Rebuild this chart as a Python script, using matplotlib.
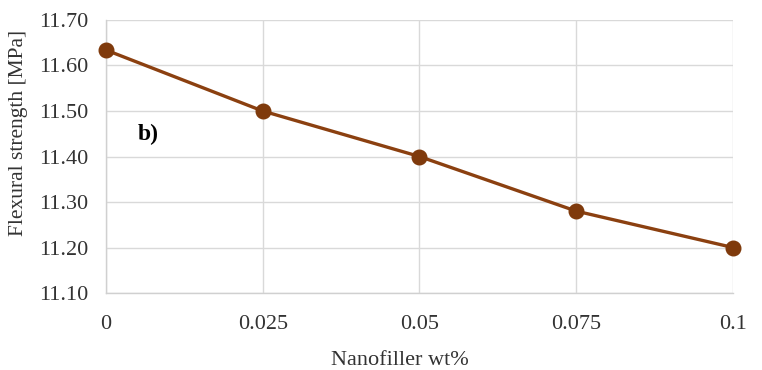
import matplotlib
matplotlib.use("Agg")
import matplotlib.pyplot as plt

# nanofiller content (wt%) and flexural strength (MPa)
x_labels = ["0", "0.025", "0.05", "0.075", "0.1"]
x_values = [0, 0.025, 0.05, 0.075, 0.1]
strength = [11.634, 11.50, 11.40, 11.28, 11.20]

y_ticks = [11.10, 11.20, 11.30, 11.40, 11.50, 11.60, 11.70]

plt.rcParams['font.family'] = ['Liberation Serif', 'DejaVu Serif']

fig = plt.figure(figsize=(7.62, 3.70), dpi=100)
ax = fig.add_axes([0.139, 0.208, 0.823, 0.738])

line_col = '#8B4010'
ax.plot(x_values, strength, color=line_col, linewidth=2.4, marker='o',
        markersize=10.5, markerfacecolor='#7F3A0C', markeredgecolor='#7F3A0C',
        solid_capstyle='round', zorder=3, clip_on=False)

ax.set_xlim(0, 0.1)
ax.set_ylim(11.10, 11.70)
ax.set_xticks(x_values)
ax.set_xticklabels(x_labels)
ax.set_yticks(y_ticks)
ax.set_yticklabels([f"{v:.2f}" for v in y_ticks])

ax.grid(True, color='#d9d9d9', linewidth=1.0)
ax.set_axisbelow(True)
for side in ['top', 'right']:
    ax.spines[side].set_visible(False)
for side in ['left', 'bottom']:
    ax.spines[side].set_color('#d0d0d0')
    ax.spines[side].set_linewidth(1.0)

ax.tick_params(axis='both', length=0, labelsize=16, labelcolor='#333333')
ax.tick_params(axis='y', pad=13)
ax.tick_params(axis='x', pad=16)

ax.set_xlabel('Nanofiller wt%', fontsize=16, color='#333333')
ax.xaxis.set_label_coords(0.469, -0.212)
ax.set_ylabel('Flexural strength [MPa]', fontsize=15.5, color='#333333')
ax.yaxis.set_label_coords(-0.124, 0.586)

ax.text(0.05, 0.58, 'b)', transform=ax.transAxes, fontsize=17,
        fontweight='bold', color='black', va='center')

fig.savefig('out.png', dpi=100)
